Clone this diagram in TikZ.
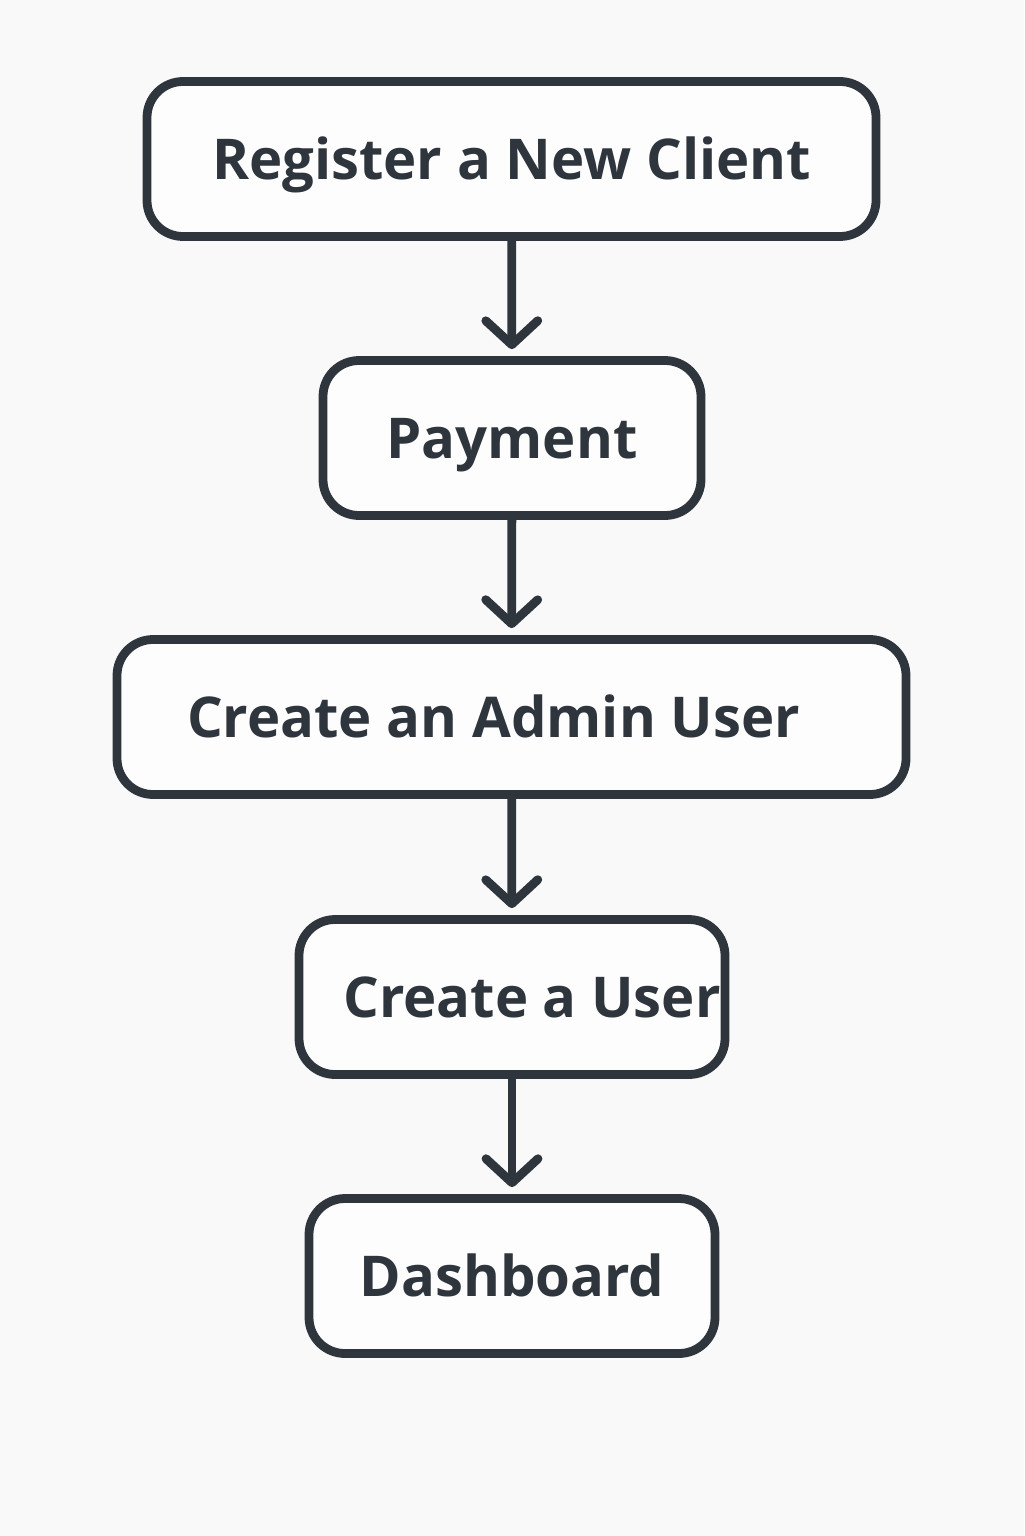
\documentclass[tikz,border=0pt]{standalone}
\usepackage{fontspec}
\setmainfont{Open Sans}
\usepackage{tikz}
\usetikzlibrary{shapes,arrows,arrows.meta,positioning}
\definecolor{inkgray}{HTML}{2E353D}
\definecolor{paper}{HTML}{F9F9F9}

\begin{document}
\begin{tikzpicture}[
    flowbox/.style={rectangle, rounded corners=0.36cm, draw=inkgray, line width=2.5pt, fill=white!60!paper, text=inkgray, font=\fontsize{16}{18}\selectfont\bfseries, minimum height=1.55cm, inner sep=0pt, text height=11.4pt, text depth=0pt, align=center},
    flowarrow/.style={line width=2.5pt, draw=inkgray, -{Straight Barb[length=0.24cm, width=0.52cm, line cap=round, line join=round]}, shorten >=0.07cm}
  ]
    % Canvas
    \fill[paper] (0,0) rectangle (10.24,-15.36);
    \useasboundingbox (0,0) rectangle (10.24,-15.36);

    % Steps of the flow
    \node[flowbox, minimum width=7.29cm] (register) at (5.115,-1.59) {Register a New Client};
    \node[flowbox, minimum width=3.78cm] (payment) at (5.12,-4.38) {Payment};
    \node[flowbox, minimum width=7.89cm] (admin) at (5.115,-7.17) {Create an Admin User\hspace*{0.36cm}};
    \node[flowbox, minimum width=4.26cm] (user) at (5.12,-9.97) {\hspace*{0.4cm}Create a User};
    \node[flowbox, minimum width=4.06cm] (dash) at (5.12,-12.76) {Dashboard};

    % Arrows between steps
    \draw[flowarrow] (register) -- (payment);
    \draw[flowarrow] (payment) -- (admin);
    \draw[flowarrow] (admin) -- (user);
    \draw[flowarrow] (user) -- (dash);
\end{tikzpicture}
\end{document}
